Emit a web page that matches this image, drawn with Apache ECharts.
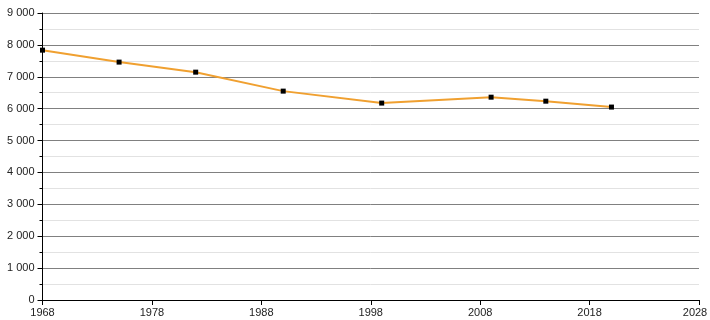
<!DOCTYPE html>
<html><head><meta charset="utf-8">
<script src="https://cdn.jsdelivr.net/npm/echarts@6/dist/echarts.min.js"></script>
<style>html,body{margin:0;padding:0;background:#fff;overflow:hidden}#c{width:710px;height:320px}</style>
</head><body><div id="c"></div>
<script>
const years = [1968, 1975, 1982, 1990, 1999, 2009, 2014, 2020];
const population = [7835, 7460, 7145, 6550, 6175, 6360, 6235, 6050];
const xTickYears = [1968, 1978, 1988, 1998, 2008, 2018, 2028];

const fmt = v => String(v).replace(/\B(?=(\d{3})+(?!\d))/g, ' ');
const lastYear = xTickYears[xTickYears.length - 1];
const chart = echarts.init(document.getElementById('c'), null, {renderer: 'canvas', width: 710, height: 320});
chart.setOption({
  animation: false,
  grid: {left: 42.5, right: 11, top: 13, bottom: 20, containLabel: false, outerBoundsMode: 'none'},
  xAxis: {
    type: 'value', min: 1968, max: 2028,
    axisLine: {show: true, onZero: false, lineStyle: {color: '#000', width: 1}},
    axisTick: {show: true, length: 5, customValues: xTickYears, lineStyle: {color: '#000'}},
    axisLabel: {
      customValues: xTickYears, color: '#222', fontSize: 11,
      fontFamily: 'Liberation Sans, Arial, sans-serif', margin: 7,
      formatter: v => (v === lastYear ? '{last|' + v + '}' : String(v)),
      rich: {last: {padding: [0, 8, 0, 0], fontSize: 11, color: '#222', fontFamily: 'Liberation Sans, Arial, sans-serif'}}
    },
    splitLine: {show: false}
  },
  yAxis: {
    type: 'value', min: 0, max: 9000, interval: 1000,
    axisLine: {show: true, lineStyle: {color: '#000', width: 1}},
    axisTick: {show: true, length: 5, lineStyle: {color: '#000'}},
    minorTick: {show: true, splitNumber: 2, length: 3, lineStyle: {color: '#000'}},
    axisLabel: {color: '#222', fontSize: 11, fontFamily: 'Liberation Sans, Arial, sans-serif', margin: 8, formatter: v => fmt(v)},
    splitLine: {show: true, lineStyle: {color: '#808080', width: 1}},
    minorSplitLine: {show: true, lineStyle: {color: '#e2e2e2', width: 1}}
  },
  series: [{
    type: 'line',
    data: years.map((y, i) => [y, population[i]]),
    symbol: 'rect', symbolSize: 5,
    itemStyle: {color: '#000'},
    lineStyle: {color: '#f0a030', width: 2},
    z: 3
  }]
});
</script></body></html>
